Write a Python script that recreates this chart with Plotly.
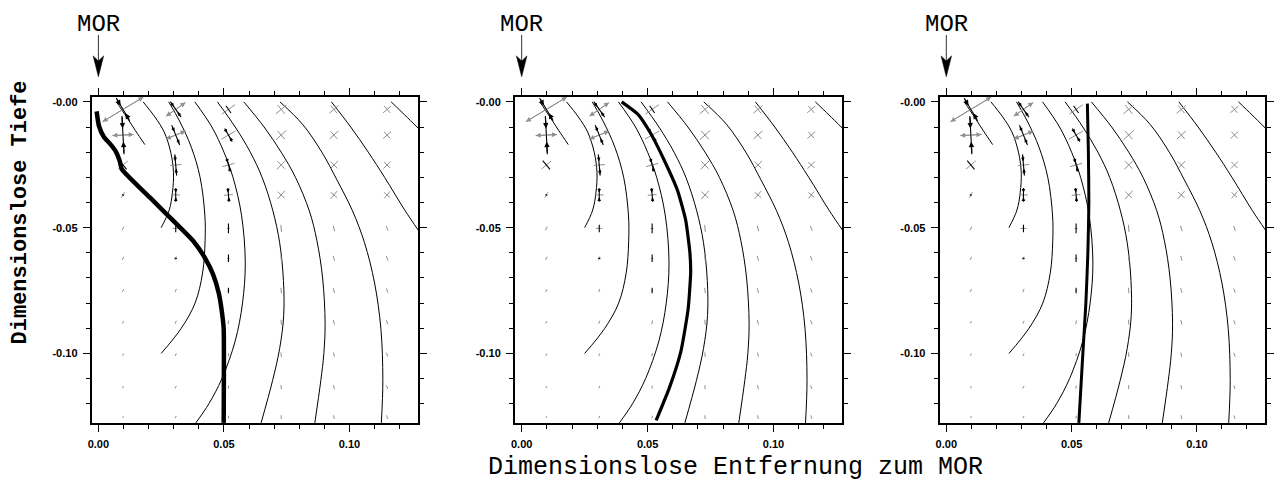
import math
import plotly.graph_objects as go

# ---------------- data ----------------
x_tick_vals = [0.0, 0.05, 0.10]
x_tick_text = ["0.00", "0.05", "0.10"]
y_tick_vals = [0.0, -0.05, -0.10]
y_tick_text = ["-0.00", "-0.05", "-0.10"]
mor_x = 0.0  # ridge position

# isolines (identical in all three panels)
arc_a_x = [0.0072, 0.0112, 0.0148, 0.0185]
arc_a_y = [0.0, -0.006, -0.0115, -0.017]
arc_b_x = [0.0178, 0.0225, 0.0262, 0.0288, 0.0299, 0.0295, 0.0282, 0.0250]
arc_b_y = [0.0, -0.006, -0.012, -0.020, -0.028, -0.036, -0.043, -0.050]
arc_c_x = [0.0280, 0.0325, 0.0370, 0.0405, 0.0424, 0.0425, 0.0415, 0.0385, 0.0330, 0.0250]
arc_c_y = [0.0, -0.008, -0.018, -0.030, -0.045, -0.055, -0.068, -0.080, -0.090, -0.100]
arc_d_x = [0.0384, 0.0452, 0.0500, 0.0536, 0.0570, 0.0585, 0.0574, 0.0545, 0.0492, 0.0440, 0.0388]
arc_d_y = [0.0, -0.010, -0.020, -0.030, -0.045, -0.064, -0.080, -0.095, -0.110, -0.120, -0.1276]
arc_e_x = [0.0474, 0.0545, 0.0605, 0.0652, 0.0695, 0.0722, 0.0737, 0.0738, 0.0722, 0.0694, 0.0648]
arc_e_y = [0.0, -0.010, -0.020, -0.030, -0.0433, -0.056, -0.071, -0.085, -0.098, -0.1107, -0.1276]
arc_f_x = [0.0579, 0.0660, 0.0728, 0.0785, 0.0840, 0.0870, 0.0893, 0.0903, 0.0898, 0.0886, 0.0862]
arc_f_y = [0.0, -0.010, -0.020, -0.030, -0.0433, -0.055, -0.070, -0.088, -0.100, -0.1107, -0.1276]
arc_g_x = [0.0723, 0.0813, 0.0890, 0.0950, 0.1012, 0.1060, 0.1100, 0.1125, 0.1133, 0.1127]
arc_g_y = [0.0, -0.0089, -0.020, -0.031, -0.0433, -0.056, -0.072, -0.090, -0.1107, -0.1276]
arc_h_x = [0.0928, 0.1005, 0.1075, 0.1140, 0.1222, 0.1274]
arc_h_y = [0.0, -0.010, -0.020, -0.030, -0.0433, -0.051]
arc_i_x = [0.1166, 0.1220, 0.1274]
arc_i_y = [0.0, -0.0052, -0.0105]

# thick paths, one per panel
path1_x = [-0.0007, 0.0002, 0.0022, 0.0045, 0.0068, 0.0085, 0.0093, 0.0205, 0.0311, 0.0377,
           0.0423, 0.0456, 0.0480, 0.0493, 0.0499, 0.0499]
path1_y = [-0.0038, -0.0095, -0.0140, -0.0165, -0.0195, -0.0235, -0.0267, -0.0380, -0.0485, -0.0552,
           -0.0618, -0.0684, -0.0763, -0.0843, -0.0902, -0.1276]
path2_x = [0.0397, 0.0461, 0.0513, 0.0566, 0.0618, 0.0651, 0.0668, 0.0671, 0.0661, 0.0632, 0.0586, 0.0534]
path2_y = [0.0, -0.0049, -0.0127, -0.0232, -0.0350, -0.0469, -0.0600, -0.0678, -0.0823, -0.0993, -0.1138, -0.1266]
path3_x = [0.0563, 0.0567, 0.0569, 0.0565, 0.0557, 0.0545, 0.0529]
path3_y = [-0.0007, -0.0200, -0.0400, -0.0600, -0.0800, -0.1000, -0.1276]

# stress-cross grid
cross_col_x = [0.0098, 0.0308, 0.0518, 0.0728, 0.0938, 0.1150]
cross_row_y = [-0.0030, -0.0132, -0.0251, -0.0370, -0.0503, -0.0622, -0.0750, -0.0876, -0.1005, -0.1134, -0.1253]
# angle (deg) of first principal axis, per column (rows top -> bottom)
cross_theta = [
    [31, 3, 40, 60, 62, 63, 64, 64, 65, 65, 65],
    [35, 22, 5, 0, 0, 70, 70, 68, 66, 65, 65],
    [35, 30, 15, 5, 0, 0, 0, 80, 80, 80, 80],
    [40, 42, 45, 48, 95, 95, 95, 95, 95, 95, 95],
    [40, 42, 45, 50, 105, 105, 105, 105, 105, 105, 105],
    [40, 42, 45, 50, 110, 110, 110, 110, 110, 110, 110],
]
# first principal stress (+ tension)
cross_sig1 = [
    [0.019, 0.0085, 0.005, 0.0025, 0.0016, 0.0014, 0.0012, 0.0011, 0.0010, 0.0009, 0.0008],
    [0.0095, 0.0085, 0.0045, 0.0035, 0.0025, 0.0016, 0.0014, 0.0013, 0.0012, 0.0011, 0.0010],
    [0.0065, 0.0065, 0.0050, 0.0035, 0.0012, 0.0010, 0.0008, 0.0015, 0.0013, 0.0012, 0.0011],
    [0.0055, 0.0055, 0.0050, 0.0045, 0.0028, 0.0024, 0.0022, 0.0020, 0.0018, 0.0016, 0.0015],
    [0.0048, 0.0048, 0.0045, 0.0040, 0.0022, 0.0020, 0.0019, 0.0018, 0.0017, 0.0016, 0.0015],
    [0.0042, 0.0042, 0.0040, 0.0036, 0.0020, 0.0019, 0.0018, 0.0017, 0.0016, 0.0015, 0.0014],
]
# second principal stress, perpendicular (- compression, + tension)
cross_sig2 = [
    [-0.0105, -0.0152, -0.0045, -0.0008, 0, 0, 0, 0, 0, 0, 0],
    [-0.0075, -0.0085, -0.0085, -0.0055, -0.0030, -0.0010, 0, 0, 0, 0, 0],
    [-0.0035, -0.0060, -0.0055, -0.0055, -0.0038, -0.0030, -0.0022, 0, 0, 0, 0],
    [0.0045, 0.0045, 0.0042, 0.0038, 0, 0, 0, 0, 0, 0, 0],
    [0.0040, 0.0040, 0.0038, 0.0034, 0, 0, 0, 0, 0, 0, 0],
    [0.0036, 0.0036, 0.0034, 0.0030, 0, 0, 0, 0, 0, 0, 0],
]

# ---------------- figure ----------------
GRAY = "#8f8f8f"
MONO = "Liberation Mono, Courier New, monospace"
SANS = "Liberation Sans, Arial, sans-serif"
H = 483.0

arcs = [(arc_a_x, arc_a_y), (arc_b_x, arc_b_y), (arc_c_x, arc_c_y), (arc_d_x, arc_d_y),
        (arc_e_x, arc_e_y), (arc_f_x, arc_f_y), (arc_g_x, arc_g_y), (arc_h_x, arc_h_y),
        (arc_i_x, arc_i_y)]
paths = [(path1_x, path1_y, 4.5), (path2_x, path2_y, 3.2), (path3_x, path3_y, 3.0)]
x_domains = [[0.0691, 0.3265], [0.4029, 0.6611], [0.7378, 0.9947]]
y_domain = [0.1242, 0.8012]

fig = go.Figure()
annotations = []
shapes = []

for p in range(3):
    xa = "x" if p == 0 else f"x{p+1}"
    ya = "y" if p == 0 else f"y{p+1}"
    # isolines
    for ax_, ay_ in arcs:
        fig.add_trace(go.Scatter(x=ax_, y=ay_, mode="lines",
                                 line=dict(color="black", width=1, shape="spline", smoothing=1.0),
                                 xaxis=xa, yaxis=ya, showlegend=False, hoverinfo="skip"))
    # stress crosses
    gx, gy, bx, by = [], [], [], []
    for ci, cx in enumerate(cross_col_x):
        for ri, cy in enumerate(cross_row_y):
            th = math.radians(cross_theta[ci][ri])
            for sig, ang in ((cross_sig1[ci][ri], th), (cross_sig2[ci][ri], th + math.pi / 2)):
                if sig == 0:
                    continue
                h = abs(sig) / 2
                dx, dy = math.cos(ang) * h, math.sin(ang) * h
                xs, ys = (gx, gy) if sig > 0 else (bx, by)
                xs += [cx - dx, cx + dx, None]
                ys += [cy - dy, cy + dy, None]
                if sig > 0 and sig >= 0.0075:
                    for s in (1, -1):
                        annotations.append(dict(x=cx + s * dx, y=cy + s * dy, ax=cx, ay=cy,
                                                xref=xa, yref=ya, axref=xa, ayref=ya, text="",
                                                showarrow=True, arrowhead=2, arrowsize=1.0,
                                                arrowwidth=1, arrowcolor=GRAY, standoff=0,
                                                startstandoff=0))
                if sig < 0 and abs(sig) >= 0.005:
                    big = abs(sig) >= 0.009
                    for s in (1, -1):
                        annotations.append(dict(x=cx + s * dx * 0.35, y=cy + s * dy * 0.35,
                                                ax=cx + s * dx, ay=cy + s * dy,
                                                xref=xa, yref=ya, axref=xa, ayref=ya, text="",
                                                showarrow=True, arrowhead=2,
                                                arrowsize=0.9 if big else 0.6,
                                                arrowwidth=1.2, arrowcolor="black", standoff=0,
                                                startstandoff=0))
    fig.add_trace(go.Scatter(x=gx, y=gy, mode="lines", line=dict(color=GRAY, width=1),
                             xaxis=xa, yaxis=ya, showlegend=False, hoverinfo="skip"))
    fig.add_trace(go.Scatter(x=bx, y=by, mode="lines", line=dict(color="black", width=1.1),
                             xaxis=xa, yaxis=ya, showlegend=False, hoverinfo="skip"))
    # thick path
    px_, py_, w = paths[p]
    fig.add_trace(go.Scatter(x=px_, y=py_, mode="lines",
                             line=dict(color="black", width=w, shape="spline", smoothing=0.5),
                             xaxis=xa, yaxis=ya, showlegend=False, hoverinfo="skip"))
    # MOR marker: text + thin shaft + narrow filled head
    annotations.append(dict(x=mor_x, y=1 - 24 / H, xref=xa, yref="paper", text="MOR",
                            showarrow=False, xanchor="center", yanchor="middle",
                            font=dict(family=MONO, size=24, color="black")))
    shapes.append(dict(type="line", xref=xa, yref="paper", x0=mor_x, x1=mor_x,
                       y0=1 - 34 / H, y1=1 - 62 / H, line=dict(color="#333333", width=1)))
    hw = 0.0021
    head = (f"M {mor_x - hw},{1 - 55 / H} L {mor_x},{1 - 76 / H} "
            f"L {mor_x + hw},{1 - 55 / H} L {mor_x},{1 - 60 / H} Z")
    shapes.append(dict(type="path", xref=xa, yref="paper", path=head,
                       fillcolor="black", line=dict(color="black", width=0.5)))

    axis_common = dict(showline=True, linecolor="black", linewidth=1.8, mirror="allticks",
                       ticks="outside", ticklen=7, tickwidth=1.2, tickcolor="black",
                       showgrid=False, zeroline=False, ticklabelstandoff=3,
                       tickfont=dict(family=SANS, size=11, color="black", weight="bold"),
                       minor=dict(ticks="outside", ticklen=4, tickwidth=1, dtick=0.01, tick0=0,
                                  tickcolor="black", showgrid=False))
    fig.layout[("xaxis" if p == 0 else f"xaxis{p+1}")] = dict(
        axis_common, domain=x_domains[p], range=[-0.0027, 0.1273],
        tickmode="array", tickvals=x_tick_vals, ticktext=x_tick_text, anchor=ya)
    fig.layout[("yaxis" if p == 0 else f"yaxis{p+1}")] = dict(
        axis_common, domain=y_domain, range=[-0.1277, 0.0020],
        tickmode="array", tickvals=y_tick_vals, ticktext=y_tick_text, anchor=xa)

annotations.append(dict(x=735 / 1274, y=0.0, xref="paper", yref="paper",
                        text="Dimensionslose Entfernung zum MOR", showarrow=False,
                        xanchor="center", yanchor="bottom", borderpad=0,
                        font=dict(family=MONO, size=25, color="black")))
annotations.append(dict(x=17 / 1274, y=1 - 212 / H, xref="paper", yref="paper",
                        text="<b>Dimensionslose Tiefe</b>", showarrow=False, textangle=-90,
                        xanchor="center", yanchor="middle",
                        font=dict(family=MONO, size=22, color="black")))

fig.update_layout(width=1274, height=483, autosize=False,
                  margin=dict(l=0, r=0, t=0, b=0),
                  paper_bgcolor="white", plot_bgcolor="white",
                  annotations=annotations, shapes=shapes)

fig.write_html("out.html", config={"displayModeBar": False},
               post_script="document.body.style.margin='0';document.body.style.overflow='hidden';")
